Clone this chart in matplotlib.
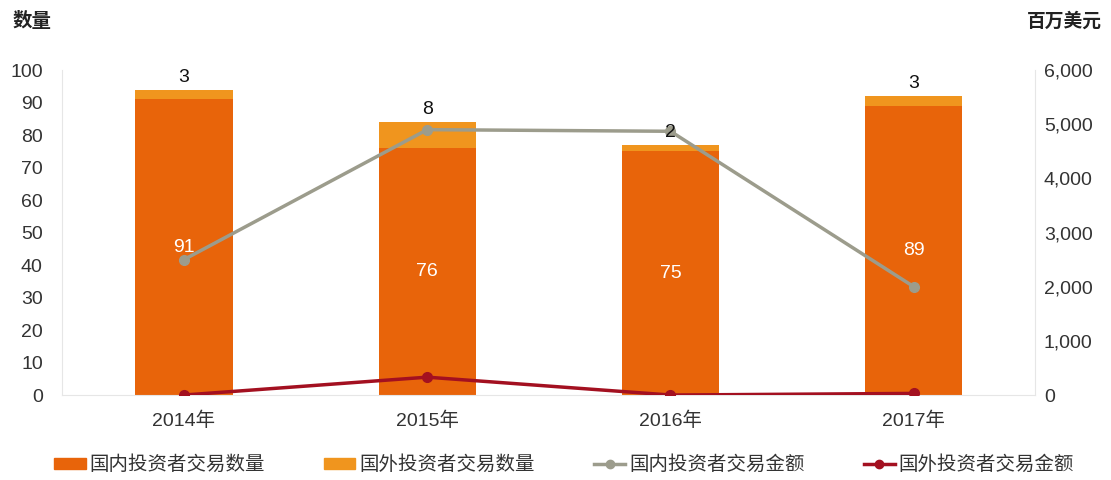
import numpy as np
import matplotlib
matplotlib.use('Agg')
import matplotlib.pyplot as plt
from matplotlib.lines import Line2D
from matplotlib.patches import Patch

plt.rcParams['font.family'] = ['Liberation Sans', 'Noto Sans CJK SC', 'DejaVu Sans']

years = ['2014年', '2015年', '2016年', '2017年']
domestic_count = [91, 76, 75, 89]
foreign_count = [3, 8, 2, 3]
domestic_amount = [2500, 4900, 4870, 2000]
foreign_amount = [0, 330, 0, 30]

c_dom = '#E8640A'
c_for = '#F0951E'
c_gray = '#9C9C8C'
c_red = '#A31020'
txt = '#333333'
cjk = ['Noto Sans CJK SC', 'DejaVu Sans']

fig = plt.figure(figsize=(11.11, 4.8), dpi=100)
ax = fig.add_axes([0.056, 0.177, 0.876, 0.677])
ax2 = ax.twinx()
ax.set_zorder(1)
ax2.set_zorder(2)
ax.patch.set_visible(False)

x = np.arange(len(years))
w = 0.4
ax.bar(x, domestic_count, w, color=c_dom, zorder=2)
ax.bar(x, foreign_count, w, bottom=domestic_count, color=c_for, zorder=2)

ax2.plot(x, domestic_amount, color=c_gray, lw=2.5, marker='o', ms=7, zorder=2)
ax2.plot(x, foreign_amount, color=c_red, lw=2.5, marker='o', ms=7, zorder=2)

# value labels drawn on top of the lines, in count units
for i in range(len(x)):
    ax2.text(x[i], domestic_count[i] / 2, str(domestic_count[i]), ha='center', va='center',
             color='white', fontsize=14, transform=ax.transData, zorder=5)
    ax2.text(x[i], domestic_count[i] + foreign_count[i] + 1.2, str(foreign_count[i]),
             ha='center', va='bottom', color='#111111', fontsize=14,
             transform=ax.transData, zorder=5)

ax.set_xlim(-0.5, 3.5)
ax.set_ylim(0, 100)
ax2.set_ylim(0, 6000)
ax.set_yticks(range(0, 101, 10))
ax2.set_yticks(range(0, 6001, 1000))
ax2.set_yticklabels([f'{v:,}' for v in range(0, 6001, 1000)])
ax.set_xticks(x)
ax.set_xticklabels(years)

for a in (ax, ax2):
    a.tick_params(length=0, labelsize=14, colors=txt)
    for s in a.spines.values():
        s.set_visible(False)
ax.spines['left'].set_visible(True)
ax.spines['left'].set_color('#E6E6E6')
ax.spines['bottom'].set_visible(True)
ax.spines['bottom'].set_color('#E6E6E6')
ax2.spines['right'].set_visible(True)
ax2.spines['right'].set_color('#E6E6E6')
ax.tick_params(axis='y', pad=14)
ax.tick_params(axis='x', pad=12)
ax2.tick_params(axis='y', pad=6)

fig.text(0.011, 0.955, '数量', fontsize=14, fontweight='bold', color='#222222',
         va='center', family=cjk)
fig.text(0.992, 0.955, '百万美元', fontsize=13.5, fontweight='bold', color='#222222',
         va='center', ha='right', family=cjk)

handles = [
    Patch(color=c_dom, label='国内投资者交易数量'),
    Patch(color=c_for, label='国外投资者交易数量'),
    Line2D([], [], color=c_gray, lw=2.5, marker='o', ms=6, label='国内投资者交易金额'),
    Line2D([], [], color=c_red, lw=2.5, marker='o', ms=6, label='国外投资者交易金额'),
]
fig.legend(handles=handles, loc='center', bbox_to_anchor=(0.508, 0.032), ncol=4, frameon=False,
           prop={'family': cjk, 'size': 14}, handlelength=1.6, handleheight=0.5,
           handletextpad=0.2, columnspacing=3.05, labelcolor=txt)

fig.savefig('out.png', dpi=100)
